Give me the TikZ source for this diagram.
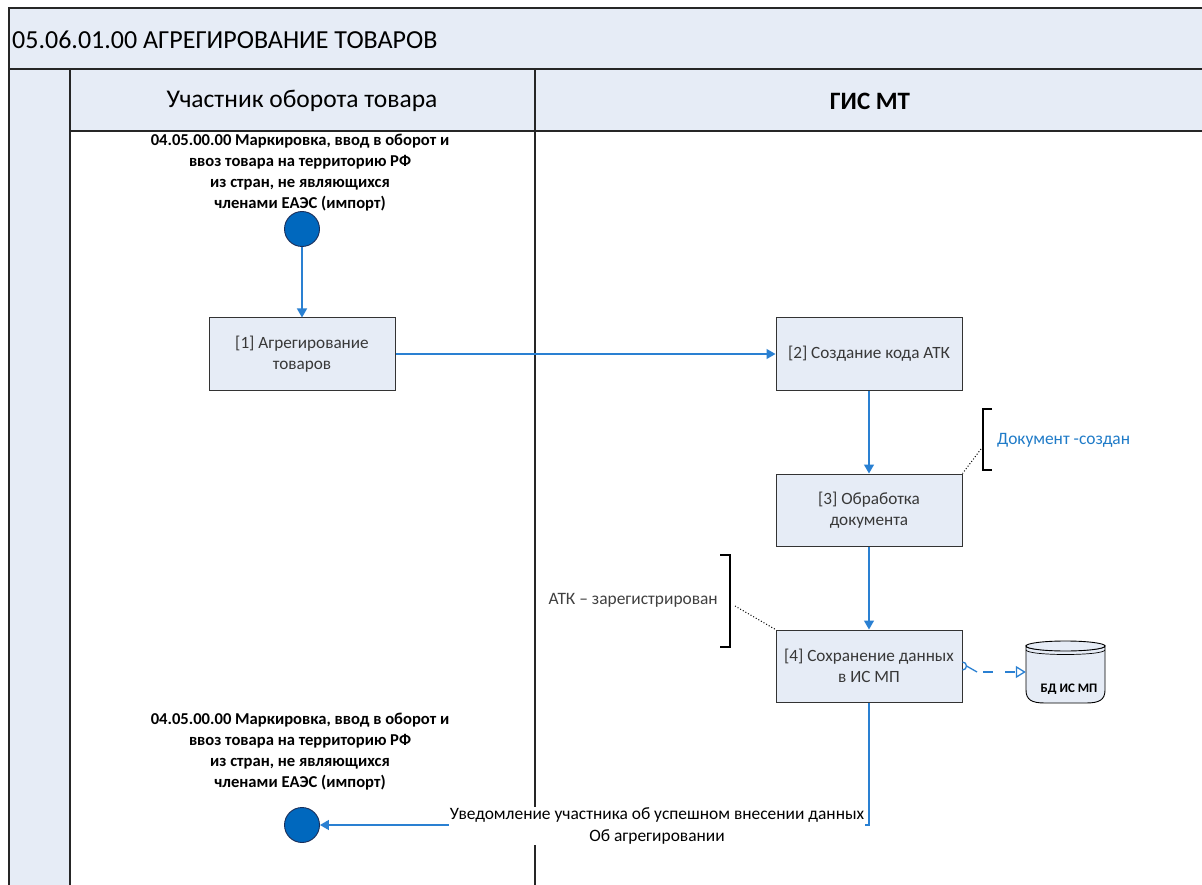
\documentclass[tikz,border=0pt]{standalone}
\usepackage{fontspec}
\setmainfont{Carlito}
\usetikzlibrary{arrows.meta,shapes.geometric}
\definecolor{lanefill}{HTML}{E6ECF6}
\definecolor{flowblue}{HTML}{2A80D2}
\definecolor{evfill}{HTML}{0068BE}
\definecolor{evdraw}{HTML}{1B2F5A}
\definecolor{boxtext}{HTML}{383838}
\definecolor{annblue}{HTML}{1F7BC8}
\definecolor{anngray}{HTML}{404040}
\tikzset{
  frame/.style={draw=black!85, line width=1.3pt, fill=lanefill},
  laneline/.style={draw=black!85, line width=1.3pt},
  procbox/.style={draw=black!80, line width=1pt, fill=lanefill, minimum width=186pt, minimum height=72pt, align=center, text=boxtext, font=\fontsize{17.2}{21}\selectfont, inner sep=2pt},
  evt/.style={circle, draw=evdraw, line width=0.9pt, fill=evfill, minimum size=35pt, inner sep=0pt},
  evlabel/.style={align=center, font=\bfseries\fontsize{16.6}{21}\selectfont, inner sep=0pt},
  flow/.style={draw=flowblue, line width=1.3pt, -{Triangle[length=9pt,width=10pt]}},
  assoc/.style={draw=flowblue, line width=1.3pt},
  annbracket/.style={draw=black, line width=1.6pt},
  anndot/.style={draw=black, line width=1pt, dotted},
}
\begin{document}
\begin{tikzpicture}[x=1pt,y=-1pt]
\useasboundingbox (0,0) rectangle (1202,885);
\fill[white] (0,0) rectangle (1202,885);
\begin{scope}
\clip (0,0) rectangle (1202,885);
% pool frame
\path[frame] (9,8) rectangle (1215,69);
\path[frame] (70,69) rectangle (1215,131);
\path[frame] (9,69) rectangle (70,900);
\draw[laneline] (535,69) -- (535,900);
\draw[laneline] (70,131) -- (70,900);
\end{scope}
% titles
\node[anchor=west, font=\fontsize{26}{30}\selectfont, inner sep=0pt] (title) at (12,40) {05.06.01.00 АГРЕГИРОВАНИЕ ТОВАРОВ};
\node[font=\fontsize{25.5}{30}\selectfont, inner sep=0pt] (lane1) at (302,101) {Участник оборота товара};
\node[font=\bfseries\fontsize{25}{30}\selectfont, inner sep=0pt] (lane2) at (870,101) {ГИС МТ};
% start event
\node[evlabel] (ev1lbl) at (300,173) {04.05.00.00 Маркировка, ввод в оборот и\\ввоз товара на территорию РФ\\из стран, не являющихся\\членами ЕАЭС (импорт)};
\node[evt] (c1) at (302,229) {};
% tasks
\node[procbox] (b1) at (302,354) {[1] Агрегирование\\товаров};
\node[procbox] (b2) at (869,354) {[2] Создание кода АТК};
\node[procbox] (b3) at (869,510) {[3] Обработка\\документа};
\node[procbox] (b4) at (869,666) {[4] Сохранение данных\\в ИС МП};
% database
\node[minimum width=79pt, minimum height=62pt, inner sep=0pt] (db) at (1065.5,672) {};
\draw[black, line width=0.9pt, fill=lanefill]
  (1026,646) -- (1026,690) .. controls (1026,700) and (1032,703) .. (1045,703)
  -- (1086,703) .. controls (1099,703) and (1105,700) .. (1105,690) -- (1105,646)
  .. controls (1105,652) and (1026,652) .. (1026,646) -- cycle;
\draw[black, line width=0.9pt, fill=lanefill] (1065.5,646) ellipse [x radius=39.5, y radius=5];
\draw[black, line width=0.7pt] (1026,650) .. controls (1028,656) and (1103,656) .. (1105,650);
\node[font=\bfseries\fontsize{13}{15}\selectfont, inner sep=0pt] (dblbl) at (1069,689) {БД ИС МП};
% end event
\node[evlabel] (ev2lbl) at (300,752) {04.05.00.00 Маркировка, ввод в оборот и\\ввоз товара на территорию РФ\\из стран, не являющихся\\членами ЕАЭС (импорт)};
\node[evt] (c2) at (302,825) {};
% flows
\draw[flow] (c1) -- (b1);
\draw[flow] (b1) -- (b2);
\draw[flow] (b2) -- (b3);
\draw[flow] (b3) -- (b4);
\draw[flow] (b4.south) |- (c2.east);
\node[fill=white, align=center, font=\fontsize{17.4}{22}\selectfont, inner sep=1pt] (note) at (657,826) {Уведомление участника об успешном внесении данных\\Об агрегировании};
% data association
\coordinate (arcend) at ([xshift=4pt]b4.east);
\coordinate (dbk) at (977,672);
\draw[assoc] ([yshift=4pt]b4.east) arc[start angle=90, end angle=-90, radius=4pt];
\draw[assoc] (arcend) -- (dbk);
\draw[assoc, dash pattern=on 10pt off 12pt, dash phase=16pt, -{Triangle[open,length=10pt,width=12pt]}] (dbk) -- (db.west |- dbk);
% annotations
\node[anchor=west, text=annblue, font=\fontsize{17.4}{20}\selectfont, inner sep=0pt] (ann1) at (997,440) {Документ -создан};
\draw[annbracket] (992,409) -- (983,409) -- (983,470) -- (992,470);
\coordinate (br1) at (981,449);
\draw[anndot] (br1) -- (b3.north east);
\node[anchor=east, text=anngray, font=\fontsize{17.4}{20}\selectfont, inner sep=0pt] (ann2) at (718,600) {АТК – зарегистрирован};
\draw[annbracket] (720,555) -- (730,555) -- (730,647) -- (720,647);
\coordinate (br2) at (735,606);
\draw[anndot] (br2) -- (b4.north west);
\end{tikzpicture}
\end{document}
